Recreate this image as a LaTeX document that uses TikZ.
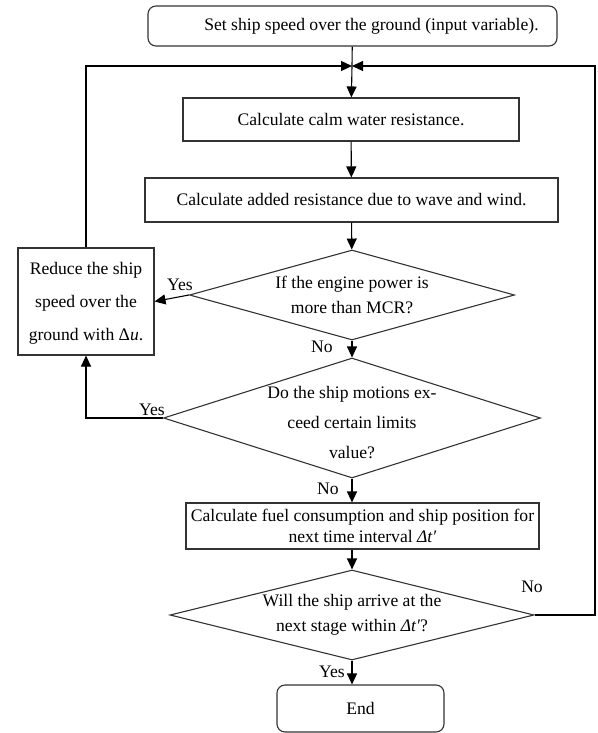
\documentclass[tikz,border=0pt]{standalone}
\usepackage{fontspec}
\setmainfont{Liberation Serif}
\usetikzlibrary{arrows.meta, shapes.geometric}

\begin{document}
\begin{tikzpicture}[x=1pt, y=-1pt, line width=1.1pt,
  font=\fontsize{17.6}{20}\selectfont,
  box/.style={draw=black!80, rectangle, inner sep=2pt, align=center},
  rbox/.style={box, rounded corners=8pt},
  cond/.style={draw=black!80, diamond, inner xsep=-15pt, inner ysep=-12pt, align=center},
  arr/.style={-{Triangle[length=11pt, width=10pt]}}]
\useasboundingbox (0,0) rectangle (597,733);

\node[rbox, minimum width=409pt, minimum height=40pt] (start) at (352.5,26)
  {\hspace*{38pt}Set ship speed over the ground (input variable).};

\coordinate (join) at (352,66);

\node[box, minimum width=336pt, minimum height=43pt] (calm) at (351,119.5)
  {Calculate calm water resistance.};

\node[box, minimum width=413pt, minimum height=44pt] (added) at (351.5,200)
  {Calculate added resistance due to wave and wind.};

\node[cond, minimum width=325pt, minimum height=90pt, aspect=3.6,
  font=\fontsize{17.6}{25}\selectfont] (engine) at (352,295)
  {If the engine power is\\ more than MCR?};

\node[box, minimum width=136pt, minimum height=107pt,
  font=\fontsize{17.6}{33}\selectfont] (reduce) at (86,301.5)
  {\rule{0pt}{16pt}Reduce the ship\\ speed over the\\ ground with Δ\textit{u}.};

\node[cond, minimum width=377pt, minimum height=120pt, aspect=3.1,
  font=\fontsize{17.6}{30}\selectfont] (motion) at (352,418)
  {\rule{0pt}{22pt}Do the ship motions ex-\\ ceed certain limits\\ value?};

\node[box, minimum width=353pt, minimum height=46pt, inner sep=1pt,
  font=\fontsize{17.6}{21}\selectfont] (fuel) at (362.5,526)
  {Calculate fuel consumption and ship position for\\ next time interval \textit{Δt′}};

\node[cond, minimum width=364pt, minimum height=90pt, aspect=4,
  font=\fontsize{17.6}{25}\selectfont] (arrive) at (352,615)
  {Will the ship arrive at the\\ next stage within \textit{Δt′}?};

\coordinate (rt) at (595,615);

\node[rbox, minimum width=167pt, minimum height=47pt] (end) at (360.5,708.5) {End};

% main line
\draw (start) -- (join);
\draw[arr] (join) -- (calm);
\draw[arr] (calm) -- (added);
\draw[arr] (added) -- (engine);
\draw[arr] (engine) -- (motion);
\draw[arr] (motion.south) -- (motion.south |- fuel.north);
\draw[arr] (fuel.south -| arrive.north) -- (arrive);
\draw[arr] (arrive.south) -- (arrive.south |- end.north);

% loops back
\draw[arr] (engine.west) -- (reduce.east);
\draw[arr] (motion.west) -| (reduce.south);
\draw[arr] (reduce.north) |- (join);
\draw[arr] (arrive.east) -- (rt) |- (join);

% labels
\node (yes1) at (180,285) {Yes};
\node (no1) at (322,347) {No};
\node (yes2) at (152,410) {Yes};
\node (no2) at (328,489) {No};
\node (no3) at (532,587) {No};
\node (yes3) at (332,672) {Yes};
\end{tikzpicture}
\end{document}
